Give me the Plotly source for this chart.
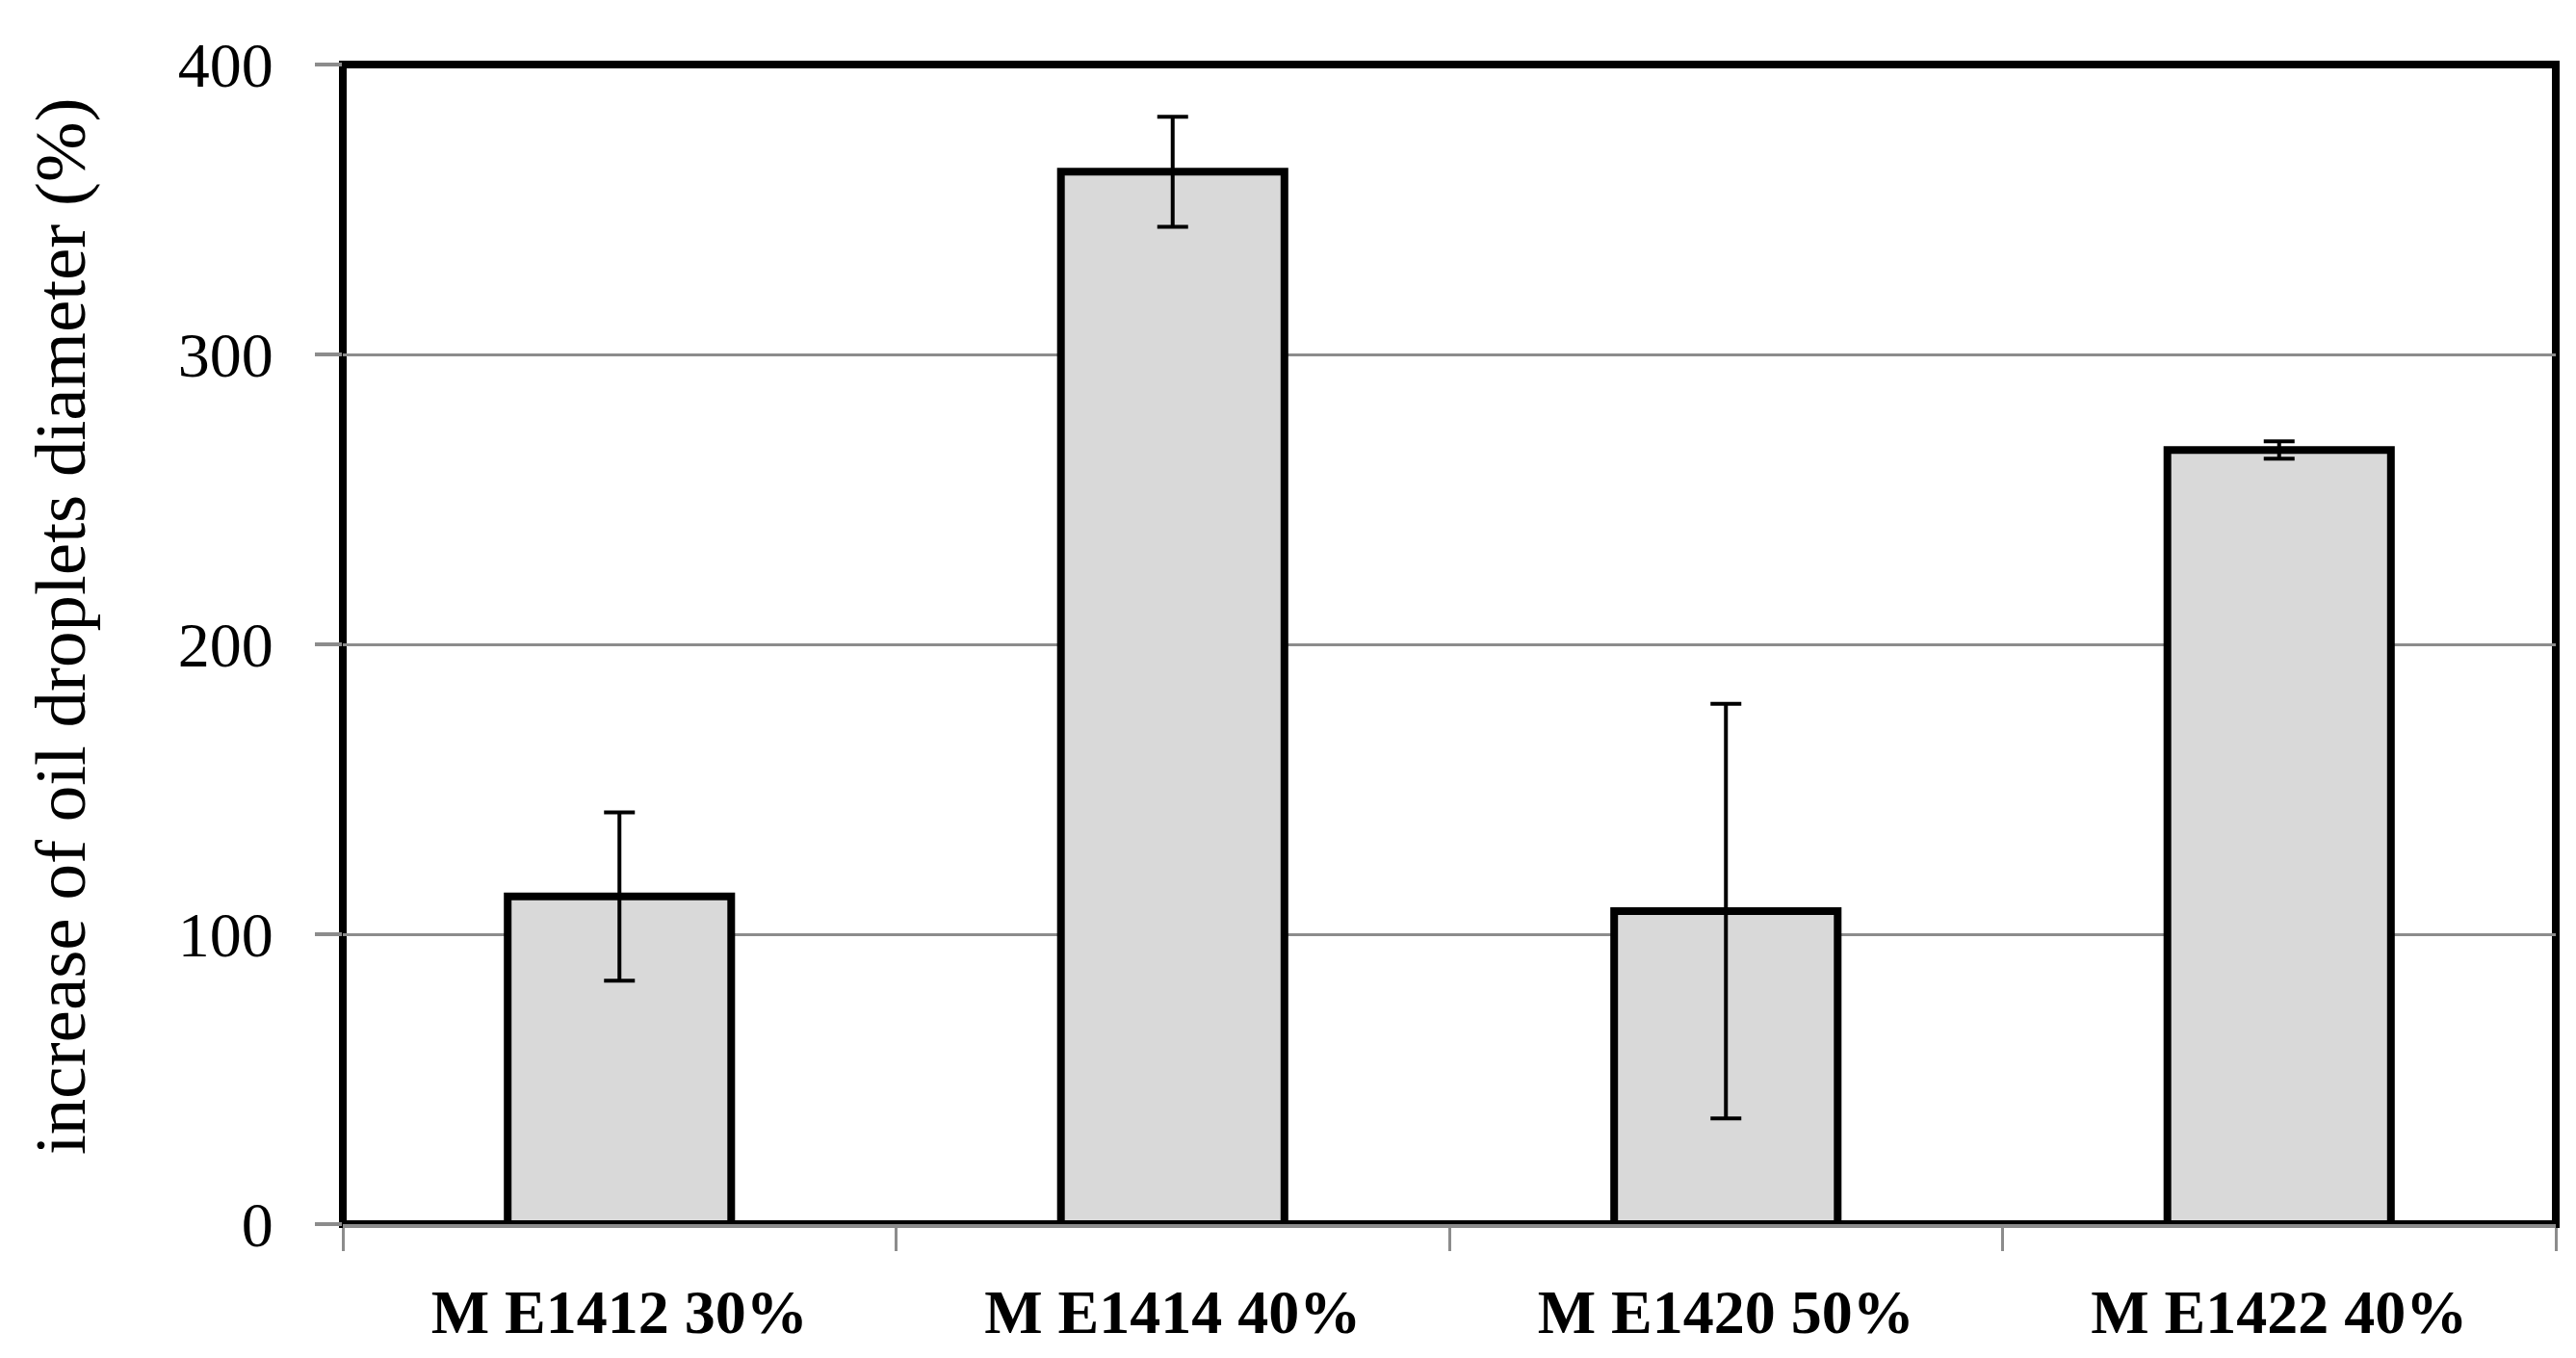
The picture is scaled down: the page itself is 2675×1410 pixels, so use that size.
import plotly.graph_objects as go

categories = ["M E1412 30%", "M E1414 40%", "M E1420 50%", "M E1422 40%"]
values = [113, 363, 108, 267]
errors = [29, 19, 71.5, 3]
y_ticks = [0, 100, 200, 300, 400]
y_title = "increase of oil droplets diameter (%)"

fig = go.Figure()
fig.add_trace(go.Bar(
    x=categories, y=values,
    marker=dict(color="#d9d9d9", line=dict(color="black", width=8)),
    error_y=dict(type="data", array=errors, symmetric=True,
                 color="black", thickness=4, width=16),
    width=0.404,
))

serif = "Liberation Serif"
fig.update_layout(
    width=2675, height=1410,
    margin=dict(l=348, r=29, t=59, b=147),
    paper_bgcolor="white", plot_bgcolor="white",
    showlegend=False,
    xaxis=dict(
        automargin=False,
        showline=True, linecolor="#8c8c8c", linewidth=4,
        ticks="outside", tickson="boundaries", ticklen=24, tickwidth=3, tickcolor="#8c8c8c",
        tickfont=dict(family=serif, size=64, color="black", weight="bold"),
        ticklabelstandoff=32,
        showgrid=False,
    ),
    yaxis=dict(
        automargin=False,
        range=[0, 400], tickvals=y_ticks,
        showline=False,
        ticks="outside", ticklen=28, tickwidth=4, tickcolor="#8c8c8c",
        tickfont=dict(family=serif, size=66, color="black"),
        ticklabelstandoff=30,
        showgrid=True, gridcolor="#8c8c8c", gridwidth=3,
        zeroline=False,
    ),
    annotations=[dict(
        text=y_title, textangle=-90, showarrow=False,
        xref="paper", yref="paper", x=0, y=0.5,
        xanchor="center", yanchor="middle", xshift=-294, yshift=18,
        font=dict(family=serif, size=75, color="black"),
    )],
)
fig.add_shape(type="rect", xref="paper", yref="paper", x0=0, y0=0, x1=1, y1=1,
              line=dict(color="black", width=8), layer="between")
fig.write_html("out.html")
